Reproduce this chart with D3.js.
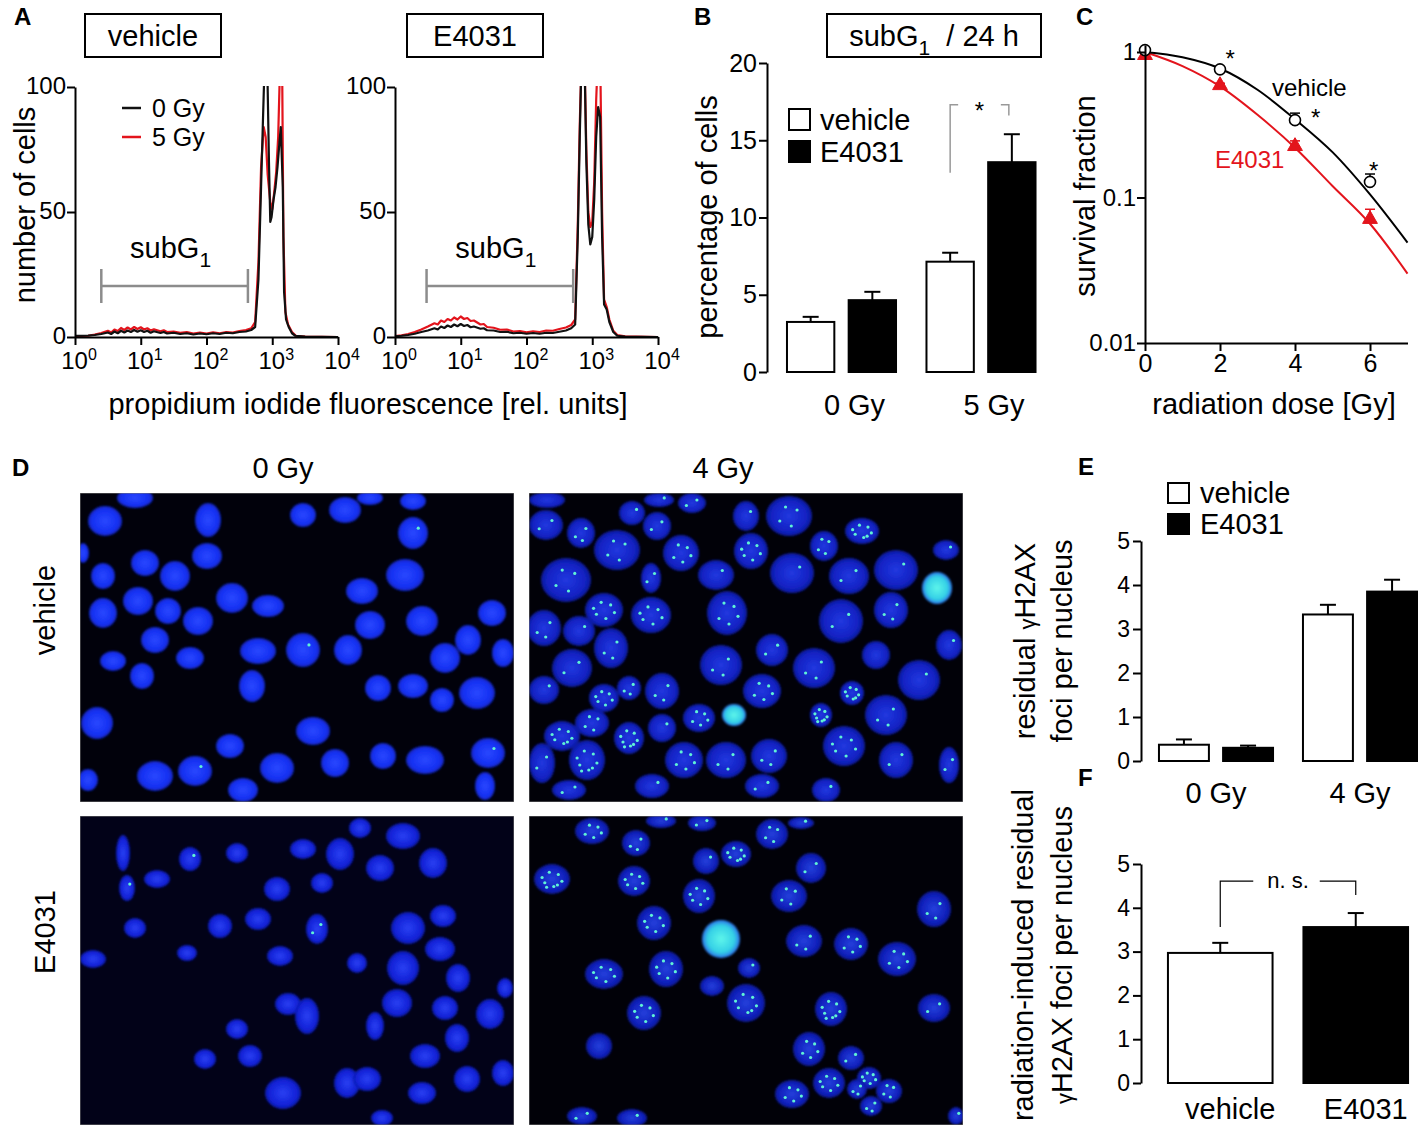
<!DOCTYPE html>
<html>
<head>
<meta charset="utf-8">
<script src="https://cdn.jsdelivr.net/npm/d3@7"></script>
<style>
  body { margin: 0; background: #fff; }
  svg { display: block; }
</style>
</head>
<body>
<div id="fig"></div>
<script>
// ---------- A: PI histograms, [log10 fluorescence, number of cells] ----------
var histVehicle0 = [[0,0.5],[0.1,0.5],[0.2,0.6],[0.3,0.8],[0.4,1.2],[0.5,1.8],[0.55,1.2],[0.6,2.2],[0.65,1.5],[0.7,2.5],[0.75,1.8],[0.8,2.6],[0.85,2.0],[0.9,2.8],[0.95,2.1],[1.0,2.7],[1.05,2.0],[1.1,2.5],[1.15,1.7],[1.2,2.3],[1.3,1.6],[1.35,2.0],[1.4,1.4],[1.5,1.7],[1.6,1.2],[1.7,1.5],[1.8,1.0],[1.9,1.4],[2.0,1.1],[2.1,1.5],[2.2,1.2],[2.3,1.7],[2.4,1.5],[2.5,2.0],[2.6,2.2],[2.68,2.8],[2.74,4],[2.79,23],[2.83,60],[2.86,88],[2.89,115],[2.92,115],[2.95,70],[2.97,46],[2.99,48],[3.02,55],[3.05,60],[3.08,68],[3.11,78],[3.13,84],[3.16,60],[3.18,18],[3.21,7],[3.25,4],[3.3,1.5],[3.35,0.5],[3.5,0.2],[4.0,0]];
var histVehicle5 = [[0,0.3],[0.1,0.4],[0.2,0.5],[0.3,1.0],[0.4,1.6],[0.5,2.5],[0.55,1.8],[0.6,3.0],[0.65,2.4],[0.7,3.6],[0.75,2.8],[0.8,3.8],[0.85,3.0],[0.9,4.0],[0.95,3.2],[1.0,3.9],[1.05,3.0],[1.1,3.5],[1.15,2.6],[1.2,3.1],[1.3,2.3],[1.35,2.7],[1.4,2.0],[1.5,2.2],[1.6,1.7],[1.7,2.0],[1.8,1.4],[1.9,1.8],[2.0,1.4],[2.1,1.9],[2.2,1.5],[2.3,2.0],[2.4,1.8],[2.5,2.4],[2.6,2.8],[2.68,3.5],[2.74,6],[2.79,30],[2.83,68],[2.87,84],[2.9,80],[2.93,65],[2.97,54],[3.0,51],[3.03,58],[3.06,66],[3.09,80],[3.12,110],[3.15,110],[3.17,40],[3.2,10],[3.24,5],[3.3,2],[3.36,0.5],[3.5,0.2],[4.0,0]];
var histE40310 = [[0,0.3],[0.1,0.5],[0.2,0.8],[0.3,1.3],[0.4,2.0],[0.5,2.6],[0.6,3.5],[0.65,3.0],[0.7,4.2],[0.75,3.6],[0.8,4.6],[0.85,4.0],[0.9,5.0],[0.95,4.3],[1.0,5.2],[1.05,4.4],[1.1,4.8],[1.15,3.9],[1.2,4.2],[1.3,3.3],[1.35,3.5],[1.4,2.7],[1.5,2.6],[1.6,2.0],[1.7,2.1],[1.8,1.5],[1.9,1.7],[2.0,1.3],[2.1,1.6],[2.2,1.3],[2.3,1.7],[2.4,1.6],[2.5,2.1],[2.6,2.6],[2.68,3.5],[2.74,5],[2.78,40],[2.81,80],[2.84,115],[2.88,115],[2.91,70],[2.94,45],[2.97,37],[3.0,40],[3.03,55],[3.06,80],[3.09,92],[3.12,88],[3.15,40],[3.18,13],[3.22,11],[3.26,6],[3.32,2],[3.38,0.5],[3.5,0.2],[4.0,0]];
var histE40315 = [[0,0.4],[0.1,0.7],[0.2,1.2],[0.3,2.0],[0.4,3.0],[0.5,4.2],[0.6,5.5],[0.65,5.0],[0.7,6.6],[0.75,6.0],[0.8,7.2],[0.85,6.6],[0.9,7.8],[0.95,7.0],[1.0,8.2],[1.05,7.2],[1.1,7.6],[1.15,6.4],[1.2,6.6],[1.3,5.0],[1.35,5.2],[1.4,4.0],[1.5,3.7],[1.6,2.9],[1.7,3.0],[1.8,2.2],[1.9,2.4],[2.0,1.9],[2.1,2.3],[2.2,2.0],[2.3,2.6],[2.4,2.5],[2.5,3.2],[2.6,3.8],[2.68,4.8],[2.74,7],[2.78,45],[2.81,85],[2.84,115],[2.88,115],[2.91,75],[2.94,50],[2.97,44],[3.0,46],[3.03,62],[3.06,95],[3.09,115],[3.12,115],[3.15,50],[3.18,15],[3.22,12],[3.26,7],[3.32,2.5],[3.38,0.8],[3.5,0.3],[4.0,0]];
var histExponents = [0, 1, 2, 3, 4];
var histYTicks = [0, 50, 100];
var subG1GateVehicle = [0.4, 2.63];   // log10 limits of the subG1 gate
var subG1GateE4031 = [0.48, 2.71];

// ---------- B: subG1 fraction (%) ----------
var treatments = ["vehicle", "E4031"];
var doseB = ["0 Gy", "5 Gy"];
var pctVehicle = [3.24, 7.14];
var pctVehicleErr = [0.33, 0.58];
var pctE4031 = [4.65, 13.58];
var pctE4031Err = [0.54, 1.81];
var pctTicks = [0, 5, 10, 15, 20];

// ---------- C: clonogenic survival ----------
var doseC = [0, 2, 4, 6];
var sfVehicle = [1.03, 0.76, 0.34, 0.128];
var sfVehicleTop = [1.03, 0.79, 0.38, 0.145];
var sfE4031 = [0.95, 0.59, 0.225, 0.071];
var sfE4031Top = [0.95, 0.61, 0.245, 0.083];
var fitDose = [0, 1, 2, 3, 4, 5, 6, 7];
var fitVehicle = [1, 0.92, 0.77, 0.55, 0.345, 0.205, 0.105, 0.049];
var fitE4031 = [1, 0.80, 0.58, 0.37, 0.22, 0.12, 0.066, 0.030];
var sfStars = [[2.27, 0.98], [4.55, 0.387], [6.1, 0.167]];
var doseTicksC = [0, 2, 4, 6];
var sfTicks = [0.01, 0.1, 1];

// ---------- D: microscopy, nuclei [cx, cy, rx, ry, foci] in image pixels ----------
var nucleiVehicle0 = [[25,28,17,15,0],[55,5,18,10,0],[128,27,13,17,0],[127,63,15,13,0],[65,70,14,13,0],[95,83,15,15,0],[23,83,12,13,0],[3,60,6,10,0],[58,108,15,14,0],[23,120,14,15,0],[88,118,13,13,0],[118,128,15,14,0],[152,105,16,15,0],[188,113,16,11,0],[75,147,14,13,0],[33,168,13,10,0],[110,165,14,11,0],[62,183,12,13,0],[178,158,18,13,0],[172,193,13,16,0],[223,157,17,17,1],[268,157,14,15,0],[223,22,13,12,0],[265,17,16,13,0],[290,5,13,7,0],[333,8,13,9,0],[333,40,15,16,1],[325,82,19,16,0],[282,98,16,13,0],[290,132,15,14,0],[342,128,16,15,0],[412,120,14,13,0],[388,147,13,15,0],[423,160,11,14,0],[365,165,15,15,0],[298,195,13,13,0],[333,193,15,12,0],[362,207,12,12,0],[397,200,18,16,0],[233,238,17,14,0],[17,230,16,16,0],[150,253,14,12,0],[75,283,18,15,0],[115,278,17,15,1],[197,275,17,15,0],[255,270,14,14,0],[303,263,13,13,0],[345,267,19,14,0],[408,260,17,15,1],[405,293,10,14,0],[8,287,10,11,0],[163,297,15,12,0]];
var nucleiVehicle4 = [[17,32,17,15,2],[52,40,14,15,3],[18,7,18,8,0],[88,57,23,20,4],[103,20,13,12,1],[128,33,14,14,2],[130,7,15,7,1],[163,10,14,10,2],[152,60,18,18,5],[217,23,13,15,1],[260,23,23,20,4],[222,58,17,18,6],[187,82,18,15,1],[122,85,10,15,2],[37,87,25,22,4],[75,117,19,17,6],[122,122,20,18,6],[15,135,17,18,3],[50,138,16,15,1],[82,155,17,20,3],[198,120,20,22,5],[263,80,22,20,1],[295,53,14,15,4],[333,38,17,13,7],[320,83,20,18,2],[367,77,22,20,1],[417,57,13,10,1],[362,117,17,18,3],[312,128,22,22,2],[420,152,13,15,1],[347,162,14,14,0],[243,157,16,16,2],[192,172,21,20,3],[285,175,21,20,3],[43,175,20,19,2],[15,197,15,14,1],[75,205,15,14,6],[100,195,12,12,3],[133,198,17,18,3],[233,198,19,17,5],[323,200,12,12,7],[390,187,21,20,1],[292,222,11,12,8],[170,225,16,14,5],[63,230,17,14,4],[100,245,15,16,8],[133,235,14,14,1],[357,222,21,20,3],[315,253,21,20,6],[240,263,18,17,3],[197,267,20,18,3],[155,267,19,18,5],[33,243,18,15,7],[58,267,18,20,8],[13,270,13,20,2],[367,267,17,18,2],[420,272,10,18,2],[123,293,17,12,1],[233,293,17,12,2],[297,297,14,12,1],[40,297,17,10,2]];
var brightVehicle4 = [[205,222,12,11],[408,95,15,16]];
var nucleiE40310 = [[43,37,7,18,0],[47,72,8,13,1],[77,63,13,9,0],[110,43,11,12,1],[157,37,11,10,0],[223,33,13,10,0],[260,38,14,16,0],[280,12,11,10,0],[323,20,17,13,0],[300,52,14,13,0],[353,47,14,15,0],[197,73,13,12,0],[242,67,11,10,0],[55,112,11,10,0],[140,110,12,12,0],[178,103,13,11,0],[237,113,11,15,2],[328,112,17,16,0],[363,100,13,11,0],[13,143,13,9,0],[107,137,10,8,0],[200,140,13,10,0],[277,147,10,10,0],[323,152,16,17,0],[360,133,15,12,0],[378,162,12,14,0],[425,172,8,10,0],[208,188,13,11,0],[227,200,12,18,0],[317,187,15,14,0],[365,192,13,12,0],[410,198,14,15,0],[295,210,9,14,0],[157,213,11,10,0],[377,222,12,14,0],[125,243,11,10,0],[170,240,12,11,0],[345,240,15,12,0],[267,267,13,15,0],[287,263,14,12,0],[203,277,18,16,0],[387,263,13,13,0],[423,257,11,13,0],[342,277,14,11,0],[302,302,11,8,0]];
var nucleiE40314 = [[63,15,17,13,5],[107,27,14,13,3],[132,5,15,7,1],[173,7,14,8,2],[243,18,16,15,4],[272,7,13,6,1],[207,38,15,13,7],[177,45,13,13,1],[23,63,18,15,8],[105,65,16,15,6],[170,80,16,17,6],[282,52,15,15,2],[260,80,18,16,4],[405,93,17,18,3],[125,107,17,17,6],[275,125,18,16,3],[322,128,17,16,5],[368,143,19,17,5],[75,158,19,15,6],[137,153,17,18,6],[220,152,11,10,1],[183,170,12,10,0],[217,187,19,19,7],[115,197,17,17,6],[302,193,16,17,8],[405,192,16,14,2],[70,230,13,13,0],[280,233,16,17,5],[322,242,13,12,2],[300,267,16,15,6],[263,278,17,14,5],[340,262,12,11,6],[360,275,13,12,4],[328,273,10,10,3],[342,290,11,10,3],[53,300,15,9,2],[103,302,15,9,1],[427,300,8,9,1]];
var brightE40314 = [[192,123,19,19]];
var fociOffsets = [[0.35,-0.3],[-0.4,0.25],[0.1,0.5],[-0.15,-0.45],[0.55,0.15],[-0.55,-0.1],[0.3,0.4],[-0.3,0.55],[0.05,-0.05],[0.5,-0.5],[-0.5,-0.45],[0.2,0.15]];

// ---------- E / F: residual gH2AX foci ----------
var doseE = ["0 Gy", "4 Gy"];
var fociVehicle = [0.37, 3.33];
var fociVehicleErr = [0.12, 0.22];
var fociE4031 = [0.30, 3.85];
var fociE4031Err = [0.05, 0.27];
var inducedFoci = [2.97, 3.56];
var inducedFociErr = [0.23, 0.32];
var fociTicks = [0, 1, 2, 3, 4, 5];

var FONT = "'Liberation Sans', Arial, Helvetica, sans-serif";
var RED = "#e3141c";

var svg = d3.select("#fig").append("svg")
  .attr("width", 1418).attr("height", 1129)
  .attr("font-family", FONT);
var defs = svg.append("defs");

function styleAxis(g, fs) {
  g.select(".domain").attr("stroke", "#000").attr("stroke-width", 2);
  g.selectAll(".tick line").attr("stroke", "#000").attr("stroke-width", 2);
  g.selectAll(".tick text").attr("font-size", fs).attr("fill", "#000")
    .attr("font-family", FONT);
}
function txt(x, y, s, fs, anchor) {
  return svg.append("text").attr("x", x).attr("y", y).attr("font-size", fs)
    .attr("text-anchor", anchor || "middle").attr("fill", "#000").text(s);
}
function panelLetter(x, y, s) {
  txt(x, y, s, 24, "start").attr("font-weight", "bold");
}
function vLabel(x, y, s, fs) {
  return svg.append("text").attr("transform", "translate(" + x + "," + y + ") rotate(-90)")
    .attr("text-anchor", "middle").attr("font-size", fs).attr("fill", "#000").text(s);
}
var intFmt = d3.format("d");

// ================= A =================
panelLetter(14, 25, "A");
function histPanel(x0, series0, series5, gate, boxX, boxLabel, clipId) {
  var x = d3.scaleLog().domain([1, 1e4]).range([x0, x0 + 263]);
  var y = d3.scaleLinear().domain([0, 100]).range([337, 87]);

  svg.append("rect").attr("x", boxX).attr("y", 14).attr("width", 136).attr("height", 43)
    .attr("fill", "none").attr("stroke", "#000").attr("stroke-width", 2);
  txt(boxX + 68, 46, boxLabel, 29);

  defs.append("clipPath").attr("id", clipId).append("rect")
    .attr("x", x0 - 2).attr("y", y(100) - 1).attr("width", 270).attr("height", 260);

  var line = d3.line().x(function (d) { return x(Math.pow(10, d[0])); })
    .y(function (d) { return y(d[1]); });
  var pg = svg.append("g").attr("clip-path", "url(#" + clipId + ")");
  pg.append("path").datum(series5).attr("d", line).attr("fill", "none")
    .attr("stroke", RED).attr("stroke-width", 2.2).attr("stroke-linejoin", "round");
  pg.append("path").datum(series0).attr("d", line).attr("fill", "none")
    .attr("stroke", "#111").attr("stroke-width", 2.2).attr("stroke-linejoin", "round");

  var ax = svg.append("g").attr("transform", "translate(0,337)")
    .call(d3.axisBottom(x).tickValues(histExponents.map(function (e) { return Math.pow(10, e); }))
      .tickFormat("").tickSize(8).tickSizeOuter(0));
  styleAxis(ax, 25);
  histExponents.forEach(function (e) {
    var t = svg.append("text").attr("x", x(Math.pow(10, e)) + 4).attr("y", 369)
      .attr("text-anchor", "middle").attr("font-size", 24);
    t.append("tspan").text("10");
    t.append("tspan").attr("dy", -9).attr("font-size", 16).text(e);
  });
  var ay = svg.append("g").attr("transform", "translate(" + x0 + ",0)")
    .call(d3.axisLeft(y).tickValues(histYTicks).tickSize(8).tickPadding(1).tickSizeOuter(0));
  styleAxis(ay, 24);
  ay.selectAll(".tick text").attr("dy", "0.28em");

  // subG1 gate
  var gy = y(20.4);
  var gx1 = x(Math.pow(10, gate[0])), gx2 = x(Math.pow(10, gate[1]));
  var gg = svg.append("g").attr("stroke", "#8c8c8c").attr("stroke-width", 2.5);
  gg.append("line").attr("x1", gx1).attr("x2", gx2).attr("y1", gy).attr("y2", gy);
  gg.append("line").attr("x1", gx1).attr("x2", gx1).attr("y1", y(27.2)).attr("y2", y(13.6));
  gg.append("line").attr("x1", gx2).attr("x2", gx2).attr("y1", y(27.2)).attr("y2", y(13.6));
  var gl = svg.append("text").attr("x", (gx1 + gx2) / 2 - 4).attr("y", y(31.6))
    .attr("text-anchor", "middle").attr("font-size", 29);
  gl.append("tspan").text("subG");
  gl.append("tspan").attr("dy", 9).attr("font-size", 21).text("1");
  return x;
}
histPanel(75, histVehicle0, histVehicle5, subG1GateVehicle, 85, "vehicle", "clipA1");
histPanel(395, histE40310, histE40315, subG1GateE4031, 407, "E4031", "clipA2");
vLabel(35, 205, "number of cells", 29);
txt(368, 414, "propidium iodide fluorescence [rel. units]", 29);
// legend
[["0 Gy", "#111"], ["5 Gy", RED]].forEach(function (d, i) {
  var yy = 108 + i * 29;
  svg.append("line").attr("x1", 122).attr("x2", 141).attr("y1", yy).attr("y2", yy)
    .attr("stroke", d[1]).attr("stroke-width", 2.5);
  txt(152, yy + 9, d[0], 25, "start");
});

// ================= B =================
panelLetter(694, 25, "B");
svg.append("rect").attr("x", 827).attr("y", 14).attr("width", 214).attr("height", 43)
  .attr("fill", "none").attr("stroke", "#000").attr("stroke-width", 2);
(function () {
  var t = svg.append("text").attr("x", 934).attr("y", 46).attr("text-anchor", "middle")
    .attr("font-size", 29);
  t.append("tspan").text("subG");
  t.append("tspan").attr("dy", 9).attr("font-size", 21).text("1");
  t.append("tspan").attr("dy", -9).text("\u00a0 / 24 h");
})();

function groupedBars(yS, groups, groupScale, sub, vals, errs) {
  treatments.forEach(function (tr, ti) {
    var data = groups.map(function (g, i) { return { g: g, v: vals[ti][i], e: errs[ti][i] }; });
    var gB = svg.append("g");
    gB.selectAll("rect").data(data).join("rect")
      .attr("x", function (d) { return groupScale(d.g) + sub(tr) + 1; })
      .attr("y", function (d) { return yS(d.v); })
      .attr("width", sub.bandwidth() - 2)
      .attr("height", function (d) { return yS(0) - yS(d.v); })
      .attr("fill", ti === 0 ? "#fff" : "#000").attr("stroke", "#000").attr("stroke-width", 2);
    var eb = svg.append("g").attr("stroke", "#000").attr("stroke-width", 2);
    data.forEach(function (d) {
      var cx = groupScale(d.g) + sub(tr) + sub.bandwidth() / 2;
      eb.append("line").attr("x1", cx).attr("x2", cx).attr("y1", yS(d.v)).attr("y2", yS(d.v + d.e));
      eb.append("line").attr("x1", cx - 8).attr("x2", cx + 8)
        .attr("y1", yS(d.v + d.e)).attr("y2", yS(d.v + d.e));
    });
  });
}

var yB = d3.scaleLinear().domain([0, 20]).range([372, 63]);
var xB = d3.scaleBand().domain(doseB).range([771.75, 1050.75]).paddingInner(0.204).paddingOuter(0.102);
var subB = d3.scaleBand().domain(treatments).range([0, xB.bandwidth()]).paddingInner(0.2);
groupedBars(yB, doseB, xB, subB, [pctVehicle, pctE4031], [pctVehicleErr, pctE4031Err]);
var ayB = svg.append("g").attr("transform", "translate(767,0)")
  .call(d3.axisLeft(yB).tickValues(pctTicks).tickSize(8).tickPadding(2).tickSizeOuter(0));
styleAxis(ayB, 25);
doseB.forEach(function (d) { txt(xB(d) + xB.bandwidth() / 2 + 13, 415, d, 29); });
vLabel(717, 217, "percentage of cells", 29);
treatments.forEach(function (t, i) {
  svg.append("rect").attr("x", 789).attr("y", 109 + i * 32).attr("width", 21).attr("height", 21)
    .attr("fill", i ? "#000" : "#fff").attr("stroke", "#000").attr("stroke-width", 2);
  txt(820, 130 + i * 32, t, 29, "start");
});
// significance bracket
(function () {
  var xl = xB("5 Gy") + subB("vehicle") + subB.bandwidth() / 2;
  var xr = xB("5 Gy") + subB("E4031") + subB.bandwidth() / 2 - 3;
  var top = yB(17.3);
  var g = svg.append("g").attr("stroke", "#999").attr("stroke-width", 1.5).attr("fill", "none");
  g.append("path").attr("d", "M" + xl + "," + yB(12.9) + "V" + top + "H" + (xl + 8));
  g.append("path").attr("d", "M" + (xr - 8) + "," + top + "H" + xr + "V" + yB(16.6));
  txt((xl + xr) / 2, top + 14, "*", 24);
})();

// ================= C =================
panelLetter(1076, 25, "C");
var xC = d3.scaleLinear().domain([0, 7]).range([1145, 1407.5]);
var yC = d3.scaleLog().domain([0.01, 1.117]).range([343, 45]);
var fitLine = d3.line().curve(d3.curveMonotoneX)
  .x(function (d) { return xC(d[0]); }).y(function (d) { return yC(d[1]); });
svg.append("path").datum(fitDose.map(function (d, i) { return [d, fitE4031[i]]; }))
  .attr("d", fitLine).attr("fill", "none").attr("stroke", RED).attr("stroke-width", 2);
svg.append("path").datum(fitDose.map(function (d, i) { return [d, fitVehicle[i]]; }))
  .attr("d", fitLine).attr("fill", "none").attr("stroke", "#000").attr("stroke-width", 2);
(function () {
  var eg = svg.append("g").attr("stroke-width", 1.5);
  doseC.forEach(function (d, i) {
    [[sfVehicle[i], sfVehicleTop[i], "#000"], [sfE4031[i], sfE4031Top[i], RED]].forEach(function (p) {
      if (p[1] > p[0]) {
        eg.append("line").attr("stroke", p[2]).attr("x1", xC(d)).attr("x2", xC(d))
          .attr("y1", yC(p[0])).attr("y2", yC(p[1]));
        eg.append("line").attr("stroke", p[2]).attr("x1", xC(d) - 5).attr("x2", xC(d) + 5)
          .attr("y1", yC(p[1])).attr("y2", yC(p[1]));
      }
    });
  });
  svg.append("g").selectAll("path").data(doseC).join("path")
    .attr("d", d3.symbol(d3.symbolTriangle, 95))
    .attr("transform", function (d, i) { return "translate(" + xC(d) + "," + yC(sfE4031[i]) + ")"; })
    .attr("fill", RED).attr("stroke", RED).attr("stroke-width", 1);
  svg.append("g").selectAll("circle").data(doseC).join("circle")
    .attr("cx", function (d) { return xC(d); })
    .attr("cy", function (d, i) { return yC(sfVehicle[i]); })
    .attr("r", 5.5).attr("fill", "#fff").attr("stroke", "#000").attr("stroke-width", 1.6);
})();
var axC = svg.append("g").attr("transform", "translate(0,343)")
  .call(d3.axisBottom(xC).tickValues(doseTicksC).tickFormat(intFmt)
    .tickSize(8).tickPadding(3).tickSizeOuter(0));
styleAxis(axC, 25);
var ayC = svg.append("g").attr("transform", "translate(1145,0)")
  .call(d3.axisLeft(yC).tickValues(sfTicks).tickFormat(function (d) { return String(d); })
    .tickSize(8).tickPadding(1).tickSizeOuter(0));
styleAxis(ayC, 24);
sfStars.forEach(function (s) { txt(xC(s[0]), yC(s[1]) + 14, "*", 24); });
txt(1272, 96, "vehicle", 24, "start");
txt(1215, 168, "E4031", 24, "start").attr("fill", RED);
vLabel(1095, 196, "survival fraction", 29);
txt(1274, 414, "radiation dose [Gy]", 29);

// ================= D =================
panelLetter(12, 476, "D");
txt(283, 478, "0 Gy", 29);
txt(723, 478, "4 Gy", 29);
vLabel(55, 610, "vehicle", 29);
vLabel(55, 932, "E4031", 29);

defs.append("filter").attr("id", "soft").append("feGaussianBlur").attr("stdDeviation", 1.1);
var brightGrad = defs.append("radialGradient").attr("id", "gBright");
brightGrad.append("stop").attr("offset", "0%").attr("stop-color", "#5ef5ea");
brightGrad.append("stop").attr("offset", "70%").attr("stop-color", "#34d0e6");
brightGrad.append("stop").attr("offset", "100%").attr("stop-color", "#2a70e8");
function micro(id, x0, y0, nuclei, bright, bg, edge, core) {
  var W = 434, H = 309;
  var sx = d3.scaleLinear().domain([0, W]).range([x0, x0 + W]);
  var sy = d3.scaleLinear().domain([0, H]).range([y0, y0 + H]);
  var grad = defs.append("radialGradient").attr("id", "g" + id);
  grad.append("stop").attr("offset", "0%").attr("stop-color", core);
  grad.append("stop").attr("offset", "75%").attr("stop-color", edge);
  grad.append("stop").attr("offset", "100%").attr("stop-color", d3.color(edge).darker(0.6));
  defs.append("clipPath").attr("id", "c" + id).append("rect")
    .attr("x", x0).attr("y", y0).attr("width", W).attr("height", H);
  var g = svg.append("g").attr("clip-path", "url(#c" + id + ")");
  g.append("rect").attr("x", x0).attr("y", y0).attr("width", W).attr("height", H).attr("fill", bg);
  var ng = g.append("g").attr("filter", "url(#soft)");
  ng.selectAll("ellipse.n").data(nuclei).join("ellipse").attr("class", "n")
    .attr("cx", function (d) { return sx(d[0]); }).attr("cy", function (d) { return sy(d[1]); })
    .attr("rx", function (d) { return d[2]; }).attr("ry", function (d) { return d[3]; })
    .attr("fill", "url(#g" + id + ")");
  ng.selectAll("ellipse.b").data(bright).join("ellipse").attr("class", "b")
    .attr("cx", function (d) { return sx(d[0]); }).attr("cy", function (d) { return sy(d[1]); })
    .attr("rx", function (d) { return d[2]; }).attr("ry", function (d) { return d[3]; })
    .attr("fill", "url(#gBright)");
  var foci = [];
  nuclei.forEach(function (d) {
    for (var i = 0; i < d[4]; i++) {
      var o = fociOffsets[i % fociOffsets.length];
      foci.push([d[0] + o[0] * d[2], d[1] + o[1] * d[3]]);
    }
  });
  g.append("g").selectAll("circle").data(foci).join("circle")
    .attr("cx", function (d) { return sx(d[0]); }).attr("cy", function (d) { return sy(d[1]); })
    .attr("r", 1.6).attr("fill", "#5ff2d6");
  g.append("rect").attr("x", x0).attr("y", y0).attr("width", W).attr("height", H)
    .attr("fill", "none").attr("stroke", "#777").attr("stroke-width", 1);
}
micro("tl", 80, 493, nucleiVehicle0, [], "#01010b", "#1530f2", "#2a48ff");
micro("tr", 529, 493, nucleiVehicle4, brightVehicle4, "#010108", "#1222c4", "#2238e0");
micro("bl", 80, 816, nucleiE40310, [], "#020218", "#1222d8", "#2a40f2");
micro("br", 529, 816, nucleiE40314, brightE40314, "#010108", "#1020bc", "#2440dc");

// ================= E =================
panelLetter(1078, 475, "E");
var yE = d3.scaleLinear().domain([0, 5]).range([761, 541]);
var xE = d3.scaleBand().domain(doseE).range([1144, 1432]).paddingInner(0.194).paddingOuter(0.097);
var subE = d3.scaleBand().domain(treatments).range([0, xE.bandwidth()]).paddingInner(0.19);
groupedBars(yE, doseE, xE, subE, [fociVehicle, fociE4031], [fociVehicleErr, fociE4031Err]);
var ayE = svg.append("g").attr("transform", "translate(1141,0)")
  .call(d3.axisLeft(yE).tickValues(fociTicks).tickFormat(intFmt)
    .tickSize(8).tickPadding(3).tickSizeOuter(0));
styleAxis(ayE, 23);
doseE.forEach(function (d) { txt(xE(d) + xE.bandwidth() / 2, 803, d, 29); });
treatments.forEach(function (t, i) {
  svg.append("rect").attr("x", 1168).attr("y", 483 + i * 31).attr("width", 21).attr("height", 20)
    .attr("fill", i ? "#000" : "#fff").attr("stroke", "#000").attr("stroke-width", 2);
  txt(1200, 503 + i * 31, t, 29, "start");
});
(function () {
  var t = vLabel(1035, 641, "", 29);
  t.append("tspan").text("residual ");
  t.append("tspan").attr("font-size", 22).text("\u03b3");
  t.append("tspan").text("H2AX");
  vLabel(1072, 641, "foci per nucleus", 29);
})();

// ================= F =================
panelLetter(1078, 786, "F");
var yF = d3.scaleLinear().domain([0, 5]).range([1083, 864]);
var xF = d3.scaleBand().domain(treatments).range([1152.5, 1423.5]).paddingInner(0.228).paddingOuter(0.114);
svg.append("g").selectAll("rect").data(treatments).join("rect")
  .attr("x", function (d) { return xF(d); })
  .attr("y", function (d, i) { return yF(inducedFoci[i]); })
  .attr("width", xF.bandwidth())
  .attr("height", function (d, i) { return yF(0) - yF(inducedFoci[i]); })
  .attr("fill", function (d, i) { return i ? "#000" : "#fff"; })
  .attr("stroke", "#000").attr("stroke-width", 2);
(function () {
  var eb = svg.append("g").attr("stroke", "#000").attr("stroke-width", 2);
  treatments.forEach(function (d, i) {
    var cx = xF(d) + xF.bandwidth() / 2, v = inducedFoci[i], e = inducedFociErr[i];
    eb.append("line").attr("x1", cx).attr("x2", cx).attr("y1", yF(v)).attr("y2", yF(v + e));
    eb.append("line").attr("x1", cx - 8).attr("x2", cx + 8).attr("y1", yF(v + e)).attr("y2", yF(v + e));
  });
  var xl = xF("vehicle") + xF.bandwidth() / 2, xr = xF("E4031") + xF.bandwidth() / 2;
  var top = yF(4.61);
  var g = svg.append("g").attr("stroke", "#000").attr("stroke-width", 1.2).attr("fill", "none");
  g.append("path").attr("d", "M" + xl + "," + yF(3.56) + "V" + top + "H" + (xl + 33));
  g.append("path").attr("d", "M" + (xr - 36) + "," + top + "H" + xr + "V" + yF(4.29));
  txt((xl + xr) / 2, top + 7, "n. s.", 22);
})();
var ayF = svg.append("g").attr("transform", "translate(1141,0)")
  .call(d3.axisLeft(yF).tickValues(fociTicks).tickFormat(intFmt)
    .tickSize(8).tickPadding(3).tickSizeOuter(0));
styleAxis(ayF, 23);
treatments.forEach(function (d) { txt(xF(d) + xF.bandwidth() / 2 + 10, 1119, d, 29); });
(function () {
  vLabel(1033, 955, "radiation-induced residual", 29);
  var t = vLabel(1072, 955, "", 29);
  t.append("tspan").attr("font-size", 22).text("\u03b3");
  t.append("tspan").text("H2AX foci per nucleus");
})();
</script>
</body>
</html>
